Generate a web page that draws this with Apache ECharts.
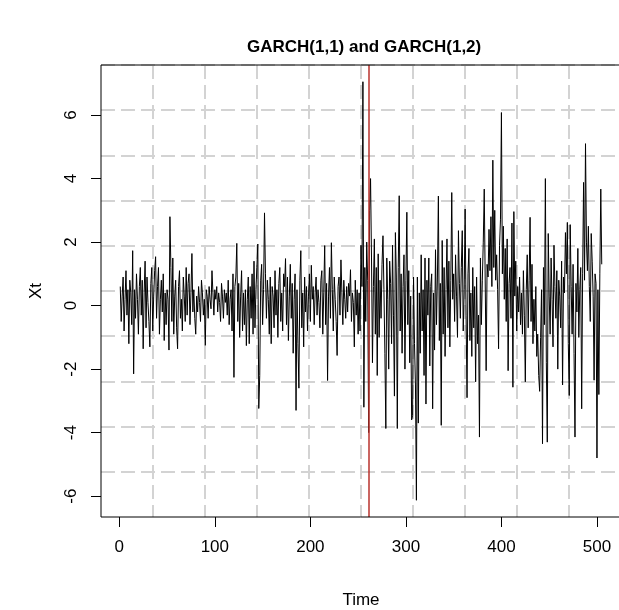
<!DOCTYPE html>
<html>
<head>
<meta charset="utf-8">
<script src="https://cdn.jsdelivr.net/npm/echarts@6/dist/echarts.min.js"></script>
<style>html,body{margin:0;padding:0;background:#fff;}#c{width:619px;height:610px;}</style>
</head>
<body>
<div id="c"></div>
<script>
var titleText = 'GARCH(1,1) and GARCH(1,2)';
var xName = 'Time';
var yName = 'Xt';
var xTicks = [0, 100, 200, 300, 400, 500];
var yTicks = [-6, -4, -2, 0, 2, 4, 6];
var breakTime = [261];
// Xt values, t = 1..505
var xt = [
0.6,-0.5,0.3,0.9,-0.8,0.2,1.1,-0.3,0.5,-1.2,
0.8,0.4,-0.6,1.73,-2.15,0.5,-0.4,1.0,0.2,-0.9,
0.6,1.2,-0.3,0.8,-1.36,0.4,1.4,-0.7,0.9,0.1,
-0.5,-1.3,0.7,1.2,-0.8,0.3,1.1,1.54,-0.4,0.6,
1.2,-0.9,0.2,0.8,-0.2,1.0,-1.1,0.4,-0.6,0.5,
0.2,-1.4,2.8,1.2,-0.5,1.5,-0.9,0.3,0.8,-0.7,
-1.36,0.6,1.1,-0.4,0.2,-0.8,0.9,0.3,-0.5,1.2,
-0.3,0.7,1.0,-0.6,0.4,1.64,-0.2,0.5,-0.4,-0.9,
0.3,-0.2,0.6,0.1,-0.5,0.8,0.4,-0.3,0.2,-1.25,
0.5,0.3,-0.4,0.6,0.2,-0.1,1.1,0.4,-0.3,0.5,
0.2,0.6,-0.2,0.4,0.1,-0.5,0.7,0.3,-0.4,0.5,
0.1,0.4,-0.3,0.8,-0.6,0.2,0.5,-0.8,1.0,-2.26,
0.6,0.9,1.96,-0.5,0.7,-1.0,0.3,1.1,-0.8,0.4,
-0.6,0.5,-1.26,0.2,0.9,-1.2,0.6,-0.4,1.0,-0.9,
1.4,-0.7,0.5,1.2,1.94,-3.24,-2.2,0.8,1.3,-0.6,
0.5,2.92,1.0,-0.4,0.8,0.2,-0.9,0.9,-1.2,0.6,
0.3,-0.7,1.1,-0.3,0.5,-1.0,0.7,1.2,-0.5,0.4,
-0.8,1.0,0.6,1.48,-0.6,0.9,-1.1,0.3,1.3,-0.4,
0.7,-1.5,0.2,1.0,-3.3,0.5,-1.2,-2.6,0.8,1.73,
-0.7,0.4,-1.3,0.9,-0.2,0.6,-0.8,0.3,1.0,-0.5,
1.27,0.2,0.6,-0.6,0.4,0.9,-0.3,0.5,0.1,-0.7,
0.8,1.1,-0.9,0.4,1.89,-0.6,0.7,-2.36,0.3,1.2,
-0.4,1.98,0.5,-0.8,0.9,0.2,-0.5,-1.57,0.6,0.9,
-0.3,1.44,0.4,-0.6,0.8,0.2,-0.4,0.6,-0.2,0.7,
0.3,1.13,-0.5,0.4,0.1,-1.3,0.8,-0.3,0.5,-0.9,
0.4,-0.8,1.9,0.6,7.05,-3.2,1.2,-0.5,2.0,0.8,
-4.0,3.0,4.0,1.5,-1.8,0.6,2.1,-0.9,1.2,-2.2,
1.63,-1.0,0.8,-0.4,1.3,2.2,0.5,-1.5,-3.87,1.5,
0.2,-2.0,1.4,0.7,-1.2,1.9,-0.3,-2.85,2.3,0.9,
-3.87,1.2,3.46,-0.8,1.0,-1.5,0.6,1.6,-2.0,0.8,
2.94,-0.6,1.1,-1.8,0.3,-3.6,-3.46,0.9,-1.2,-2.5,
-6.13,0.9,-3.7,0.4,-1.5,1.6,-0.8,0.5,-2.2,1.5,
-3.1,0.8,-0.3,1.5,-1.9,0.6,1.0,-3.25,0.4,-1.4,
1.76,-0.6,0.9,3.45,-1.1,0.7,-3.77,2.05,-0.9,1.2,
-1.6,0.5,2.1,-0.7,1.4,-1.3,0.8,3.56,0.2,1.0,
-0.5,1.6,0.3,-1.0,2.36,0.7,-0.4,1.2,2.36,-0.8,
0.5,3.04,-0.3,-2.9,1.0,1.8,-1.1,0.4,-1.6,1.2,
-0.7,0.6,-2.4,0.9,-1.2,-0.3,-4.14,1.5,-0.6,0.8,
2.0,3.67,3.72,-2.05,1.3,0.9,2.4,1.1,2.8,0.6,
4.58,1.2,3.0,0.8,1.6,0.5,-1.36,1.9,2.7,6.08,
1.0,2.5,0.2,1.8,-0.5,2.1,-2.05,0.7,1.2,-0.4,
2.6,-2.57,2.96,0.3,1.4,-0.8,0.6,-0.2,0.9,-0.6,
0.4,-0.9,1.1,-0.3,-2.4,0.5,1.6,-0.7,0.8,2.78,
-0.5,1.3,-1.2,0.2,-0.8,0.6,-1.6,-0.9,-2.2,-2.7,
-1.0,0.5,-4.35,1.2,-0.6,4.0,-1.8,-4.3,2.27,0.3,
-0.9,1.5,0.2,-1.3,1.9,0.6,-0.4,1.1,-2.0,0.8,
0.3,-0.7,1.4,-2.5,0.9,0.4,2.3,1.0,2.62,-1.2,
-2.83,2.55,0.6,-0.9,1.3,-1.5,-4.14,0.7,-0.2,1.8,
-1.0,0.5,1.2,-3.25,1.0,3.88,0.8,5.1,2.0,1.1,
2.5,0.6,-0.5,2.27,1.4,0.3,-2.35,1.0,0.7,-4.8,
0.5,-2.8,1.0,3.67,1.3
];

var seriesData = xt.map(function (v, i) { return [i + 1, v]; });

// R-style 4% axis extension
var tMin = 1, tMax = xt.length;
var vMin = Math.min.apply(null, xt), vMax = Math.max.apply(null, xt);
var xLo = tMin - 0.04 * (tMax - tMin), xHi = tMax + 0.04 * (tMax - tMin);
var yLo = vMin - 0.04 * (vMax - vMin), yHi = vMax + 0.04 * (vMax - vMin);

var FONT = 'Liberation Sans, Arial, sans-serif';
var gridDash = { color: '#d3d3d3', width: 2, type: [14, 6] };

var chart = echarts.init(document.getElementById('c'), null, { renderer: 'canvas' });
chart.setOption({
  animation: false,
  backgroundColor: '#ffffff',
  title: {
    text: titleText,
    left: 242, top: 34,
    textStyle: { fontFamily: FONT, fontSize: 17, fontWeight: 'bold', color: '#000' }
  },
  grid: {
    left: 101, top: 65, width: 520, height: 452,
    outerBoundsMode: 'none', containLabel: false,
    show: true, borderColor: '#000', borderWidth: 1, backgroundColor: 'transparent', z: 10
  },
  xAxis: [{
    type: 'value', min: xLo, max: xHi, position: 'bottom',
    name: xName, nameLocation: 'middle', nameGap: 75,
    nameTextStyle: { fontFamily: FONT, fontSize: 17, color: '#000' },
    axisLine: { show: false, onZero: false },
    axisTick: { show: true, inside: false, length: 10, lineStyle: { color: '#000' }, customValues: xTicks },
    axisLabel: { show: true, margin: 22, fontFamily: FONT, fontSize: 17, color: '#000', customValues: xTicks },
    splitLine: { show: false }
  }, {
    type: 'value', min: xLo, max: xHi, interval: (xHi - xLo) / 10, position: 'top',
    axisLine: { show: false, onZero: false }, axisTick: { show: false }, axisLabel: { show: false },
    splitLine: { show: true, showMinLine: false, showMaxLine: false, lineStyle: gridDash }
  }],
  yAxis: [{
    type: 'value', min: yLo, max: yHi, position: 'left',
    name: yName, nameLocation: 'middle', nameGap: 56,
    nameTextStyle: { fontFamily: FONT, fontSize: 17, color: '#000' },
    axisLine: { show: false, onZero: false },
    axisTick: { show: true, inside: false, length: 10, lineStyle: { color: '#000' }, customValues: yTicks },
    axisLabel: { show: true, rotate: 90, margin: 21, fontFamily: FONT, fontSize: 17, color: '#000', customValues: yTicks },
    splitLine: { show: false }
  }, {
    type: 'value', min: yLo, max: yHi, interval: (yHi - yLo) / 10, position: 'right',
    axisLine: { show: false, onZero: false }, axisTick: { show: false }, axisLabel: { show: false },
    splitLine: { show: true, showMinLine: false, showMaxLine: false, lineStyle: gridDash }
  }],
  series: [{
    type: 'line',
    data: seriesData,
    xAxisIndex: 0, yAxisIndex: 0,
    showSymbol: false, symbol: 'none',
    lineStyle: { color: '#000', width: 1 },
    markLine: {
      silent: true, symbol: 'none', label: { show: false },
      lineStyle: { color: '#b8322c', width: 1.5, type: 'solid' },
      data: breakTime.map(function (t) { return { xAxis: t }; })
    }
  }]
});
</script>
</body>
</html>
